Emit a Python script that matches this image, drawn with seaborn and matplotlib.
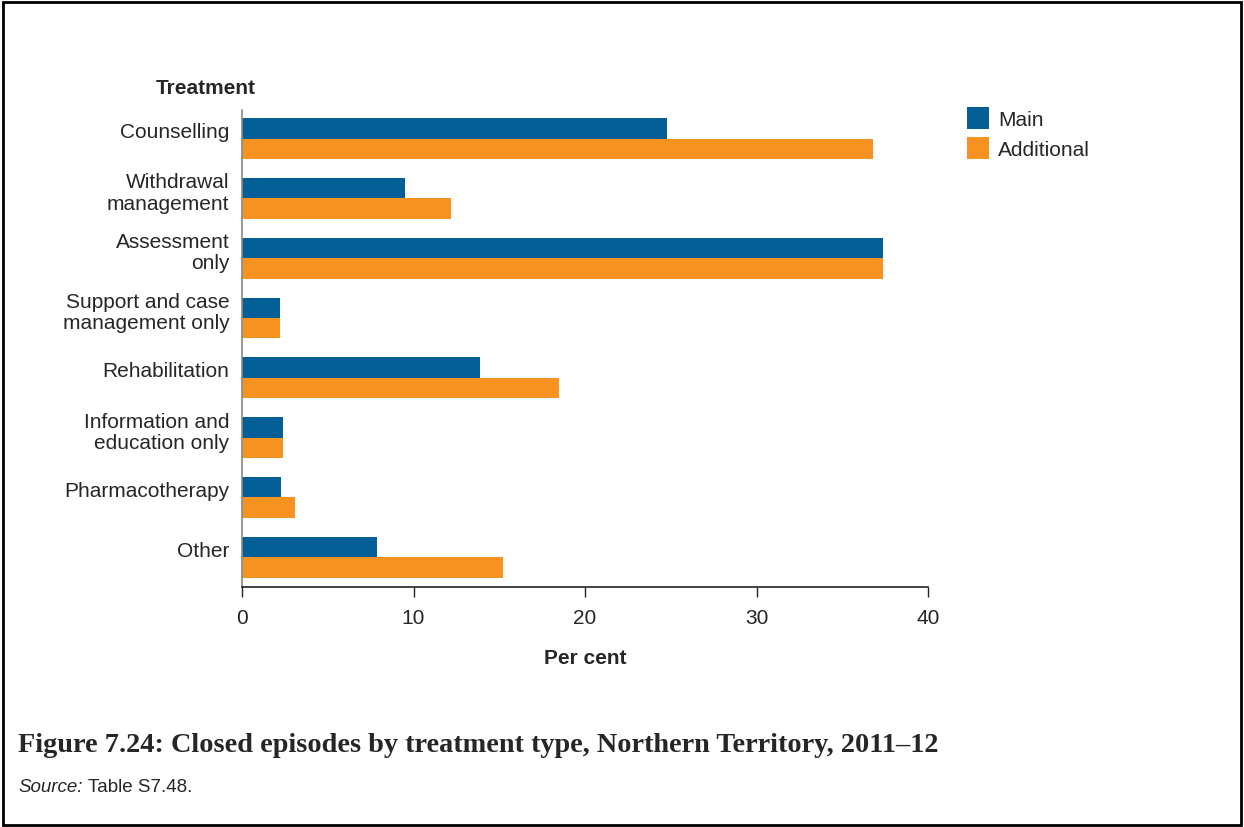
import matplotlib
matplotlib.use("Agg")
import matplotlib.pyplot as plt
import matplotlib.transforms as mtransforms
import seaborn as sns
import pandas as pd
from matplotlib.patches import Rectangle

categories = ["Counselling", "Withdrawal\nmanagement", "Assessment\nonly",
              "Support and case\nmanagement only", "Rehabilitation",
              "Information and\neducation only", "Pharmacotherapy", "Other"]
main_vals = [24.8, 9.5, 37.4, 2.2, 13.9, 2.4, 2.3, 7.9]
additional_vals = [36.8, 12.2, 37.4, 2.2, 18.5, 2.4, 3.1, 15.2]
series = ["Main", "Additional"]
colors = ["#035F95", "#F69220"]
x_ticks = [0, 10, 20, 30, 40]

df = pd.DataFrame({
    "Treatment": categories * 2,
    "Value": main_vals + additional_vals,
    "Series": [series[0]] * len(categories) + [series[1]] * len(categories),
})

sns.set_theme(style="white")
plt.rcParams["font.family"] = ["Liberation Sans", "DejaVu Sans"]

W, H = 1244, 827
fig = plt.figure(figsize=(W / 100, H / 100), dpi=100)
ax = fig.add_axes([242 / W, 1 - 587 / H, (928 - 242) / W, (587 - 110) / H])

sns.barplot(data=df, y="Treatment", x="Value", hue="Series", order=categories,
            hue_order=series, palette=colors, orient="h", width=0.685,
            saturation=1, ax=ax, legend=False)

FS = 15
ax.set_xlim(0, 40)
ax.set_ylim(7.5, -0.48)
ax.set_xticks(x_ticks)
ax.set_xticklabels([str(t) for t in x_ticks], fontsize=FS)
ax.tick_params(axis="x", bottom=True, direction="out", length=7, width=1,
               color="#222222", pad=9)
ax.tick_params(axis="y", left=False, length=0, pad=9, labelsize=FS)
offset = mtransforms.ScaledTranslation(0, 8 / 100, fig.dpi_scale_trans)
for lbl in ax.get_yticklabels():
    lbl.set_horizontalalignment("right")
    lbl.set_linespacing(1.15)
    lbl.set_transform(lbl.get_transform() + offset)
ax.set_ylabel("")
ax.set_xlabel("Per cent", fontsize=FS, fontweight="bold", labelpad=15)
for s in ["top", "right"]:
    ax.spines[s].set_visible(False)
ax.spines["left"].set_color("#888888")
ax.spines["left"].set_linewidth(1.2)
ax.spines["bottom"].set_color("#222222")
ax.spines["bottom"].set_linewidth(1.2)
for p in ax.patches:
    p.set_edgecolor("none")

fig.text(206 / W, 1 - 88 / H, "Treatment", fontsize=FS, fontweight="bold",
         ha="center", va="center")

# legend drawn as squares + labels
sq = 22
for i, (name, col) in enumerate(zip(series, colors)):
    top = 107 + i * 30
    fig.patches.append(Rectangle((967 / W, 1 - (top + sq) / H), sq / W, sq / H,
                                 transform=fig.transFigure, facecolor=col,
                                 edgecolor="none"))
    fig.text(998 / W, 1 - (top + sq / 2 + 2) / H, name, fontsize=FS,
             ha="left", va="center")

fig.text(18 / W, 1 - 745 / H,
         "Figure 7.24: Closed episodes by treatment type, Northern Territory, 2011\u201312",
         fontsize=20.3, fontweight="bold", family=["Liberation Serif", "DejaVu Serif"],
         ha="left", va="center")
src = fig.text(18 / W, 1 - 788 / H, "Source:", fontsize=13.5, style="italic",
               ha="left", va="center")
fig.canvas.draw()
bb = src.get_window_extent(renderer=fig.canvas.get_renderer())
fig.text((bb.x1 + 5) / W, 1 - 788 / H, "Table S7.48.", fontsize=13.5,
         ha="left", va="center")

fig.patches.append(Rectangle((3 / W, 2 / H), 1238 / W, 823 / H,
                             transform=fig.transFigure, fill=False,
                             edgecolor="black", linewidth=2))

fig.savefig("out.png", dpi=100)
